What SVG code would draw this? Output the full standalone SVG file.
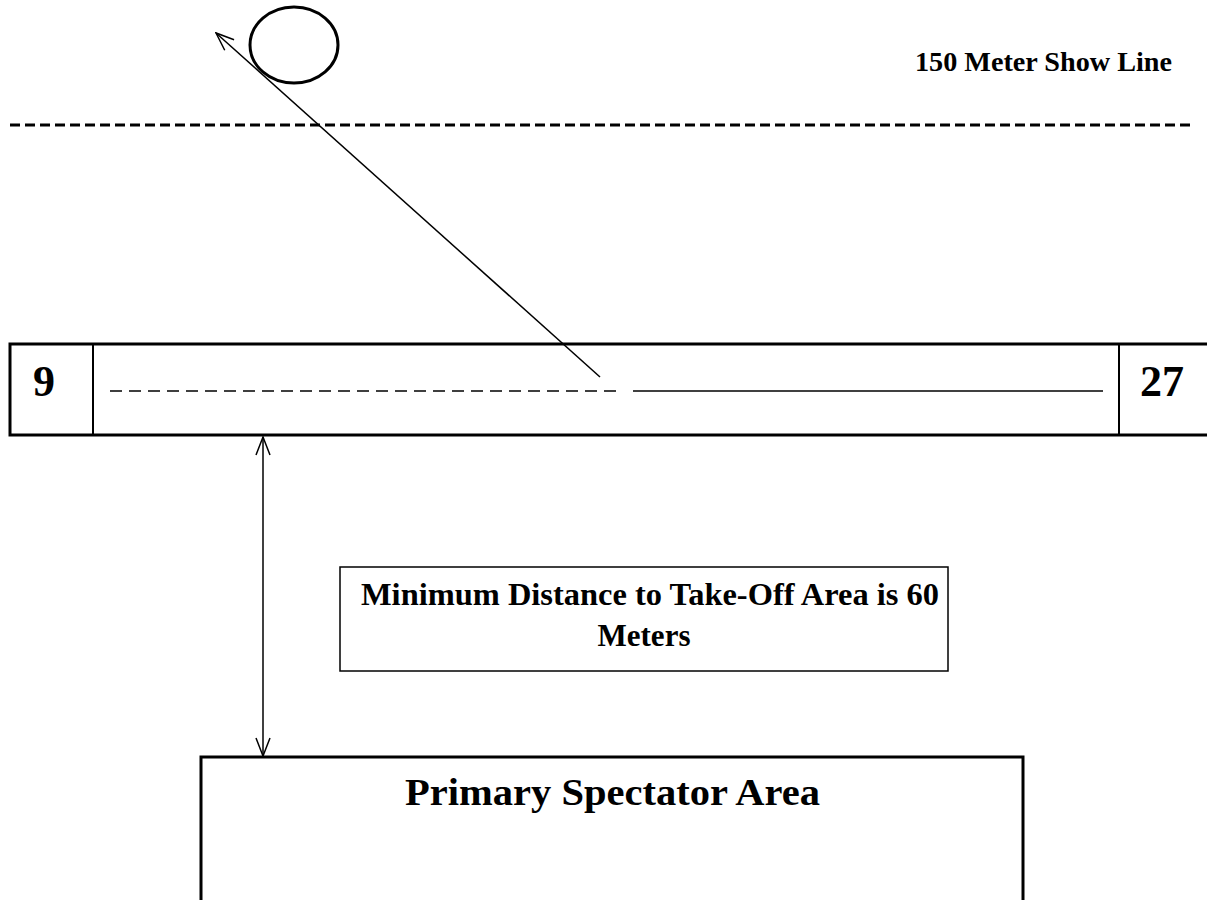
<svg xmlns="http://www.w3.org/2000/svg" width="1207" height="900" viewBox="0 0 1207 900">
<style>
.t{font-family:"Liberation Serif","Times New Roman",serif;font-weight:bold;fill:#000}
.thin{fill:none;stroke:#000;stroke-width:1.5}
.thick{fill:none;stroke:#000;stroke-width:3}
</style>
<defs>
<marker id="open" viewBox="0 0 20 20" refX="19" refY="10" markerWidth="20" markerHeight="20" markerUnits="userSpaceOnUse" orient="auto-start-reverse">
<path d="M1,3 L19,10 L1,17" fill="none" stroke="#000" stroke-width="1.5"/>
</marker>
</defs>
<rect width="1207" height="900" fill="#fff"/>
<g id="show-line">
<line x1="10" y1="125" x2="1192" y2="125" stroke="#000" stroke-width="3" stroke-dasharray="10,5"/>
<text class="t" x="915" y="71" font-size="27" textLength="257" lengthAdjust="spacingAndGlyphs">150 Meter Show Line</text>
</g>
<g id="aircraft">
<ellipse cx="294" cy="45" rx="44" ry="38" class="thick"/>
</g>
<g id="runway">
<rect x="10" y="344" width="1210" height="91" class="thick"/>
<line x1="93" y1="344" x2="93" y2="435" stroke="#000" stroke-width="2"/>
<line x1="1119" y1="344" x2="1119" y2="435" stroke="#000" stroke-width="2"/>
<text class="t" x="44" y="396" font-size="44" text-anchor="middle">9</text>
<text class="t" x="1162" y="396" font-size="44" text-anchor="middle">27</text>
<line x1="110" y1="391" x2="616" y2="391" stroke="#000" stroke-width="1.5" stroke-dasharray="12,7"/>
<line x1="633" y1="391" x2="1103" y2="391" stroke="#000" stroke-width="1.5"/>
</g>
<g id="distance-label">
<rect x="340" y="567" width="608" height="104" class="thin"/>
<text class="t" x="361" y="605" font-size="31" textLength="578" lengthAdjust="spacingAndGlyphs">Minimum Distance to Take-Off Area is 60</text>
<text class="t" x="644" y="646" font-size="31" text-anchor="middle">Meters</text>
</g>
<g id="spectator-area">
<rect x="201" y="757" width="822" height="150" class="thick"/>
<text class="t" x="405" y="805" font-size="38" textLength="415" lengthAdjust="spacingAndGlyphs">Primary Spectator Area</text>
</g>
<g id="connectors">
<line x1="600" y1="377" x2="216" y2="33" stroke="#000" stroke-width="1.5" marker-end="url(#open)"/>
<line x1="263" y1="437" x2="263" y2="756" stroke="#000" stroke-width="1.5" marker-start="url(#open)" marker-end="url(#open)"/>
</g>
</svg>
